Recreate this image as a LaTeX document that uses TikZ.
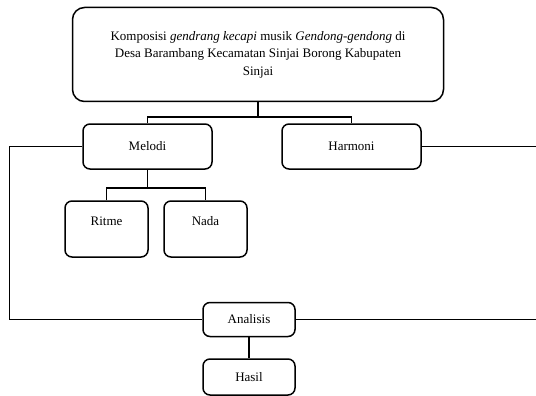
\documentclass[tikz,border=0pt]{standalone}
\usepackage{fontspec}
\setmainfont{Liberation Serif}
\usepackage{tikz}
\usetikzlibrary{positioning}

\begin{document}
\begin{tikzpicture}[x=1pt, y=-1pt, line width=1.5pt,
    kotak/.style={draw, rounded corners=7pt, inner sep=0pt, align=center, font=\fontsize{13}{17.5}\selectfont},
    garis/.style={line width=1.5pt}]
    \useasboundingbox (0,0) rectangle (536,396);
    % kotak utama
    \node[kotak, rounded corners=12pt, minimum width=371pt, minimum height=94pt] (judul) at (258,54.5)
      {Komposisi \textit{gendrang kecapi} musik \textit{Gendong-gendong} di\\
       Desa Barambang Kecamatan Sinjai Borong Kabupaten\\
       Sinjai};
    \node[kotak, minimum width=129pt, minimum height=45pt] (melodi) at (147.5,146.5) {Melodi};
    \node[kotak, minimum width=139pt, minimum height=45pt] (harmoni) at (351.5,146.5) {Harmoni};
    \node[kotak, minimum width=83pt, minimum height=56pt, text height=9pt, text depth=17pt] (ritme) at (106.5,229) {Ritme};
    \node[kotak, minimum width=83pt, minimum height=56pt, text height=9pt, text depth=17pt] (nada) at (205.5,229) {Nada};
    \node[kotak, minimum width=92pt, minimum height=34pt] (analisis) at (249,319.5) {Analisis};
    \node[kotak, minimum width=92pt, minimum height=36pt] (hasil) at (249,377) {Hasil};
    \coordinate (kananatas) at (536,148);
    \coordinate (kananbawah) at (536,319.5);
    % penghubung
    \draw[garis] (judul.south) -- ++(0,15) coordinate (cabang);
    \draw[garis] (melodi.north) |- (cabang) -| (harmoni.north);
    \draw[garis] (melodi.south) -- ++(0,18) coordinate (cabang2);
    \draw[garis] (ritme.north) |- (cabang2) -| (nada.north);
    \draw[garis] (melodi.west) -- ++(-73,0) |- (analisis.west);
    \draw[garis] (harmoni.east) -- (harmoni.east -| kananatas);
    \draw[garis] (analisis.east) -- (kananbawah);
    \draw[garis] (analisis.south) -- (hasil.north);
\end{tikzpicture}
\end{document}
